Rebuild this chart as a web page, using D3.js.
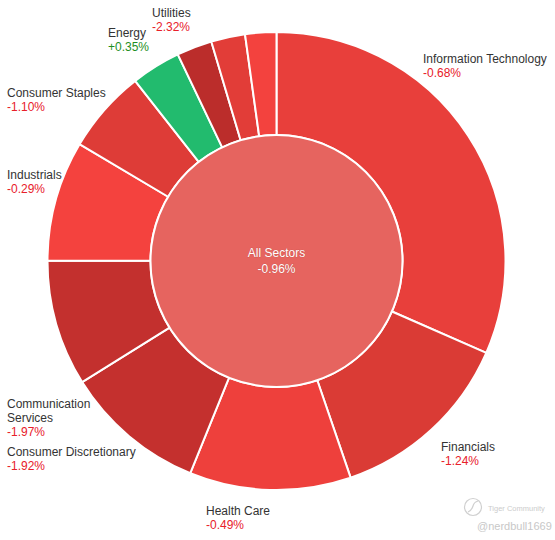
<!DOCTYPE html>
<html>
<head>
<meta charset="utf-8">
<script src="https://cdn.jsdelivr.net/npm/d3@7"></script>
<style>
  html, body { margin: 0; padding: 0; background: #fff; }
  svg { display: block; font-family: "Liberation Sans", Arial, sans-serif; }
</style>
</head>
<body>
<svg id="chart" width="555" height="540"></svg>
<script>
// ---- data ----
const sectors = ["Information Technology", "Financials", "Health Care", "Consumer Discretionary",
  "Communication Services", "Industrials", "Consumer Staples", "Energy", "Utilities", "Materials", "Real Estate"];
const weights = [31.6, 13.2, 11.4, 10.0, 8.9, 8.5, 5.9, 3.5, 2.5, 2.4, 2.2];
const changes = [-0.68, -1.24, -0.49, -1.92, -1.97, -0.29, -1.10, 0.35, -2.32, -0.92, -0.33];
const totalLabel = "All Sectors";
const totalChange = -0.96;
const labelledSectors = ["Information Technology", "Financials", "Health Care", "Consumer Discretionary",
  "Communication Services", "Industrials", "Consumer Staples", "Energy", "Utilities"];

// ---- layout (not data) ----
const cx = 276.5, cy = 261, rIn = 126, rOut = 229;
const labelLayout = {
  "Information Technology": { x: 423, y: 63, lines: ["Information Technology"] },
  "Financials": { x: 441, y: 451, lines: ["Financials"] },
  "Health Care": { x: 206, y: 515, lines: ["Health Care"] },
  "Consumer Discretionary": { x: 7, y: 456, lines: ["Consumer Discretionary"] },
  "Communication Services": { x: 7, y: 407.5, lines: ["Communication", "Services"] },
  "Industrials": { x: 7, y: 179, lines: ["Industrials"] },
  "Consumer Staples": { x: 7, y: 97, lines: ["Consumer Staples"] },
  "Energy": { x: 108, y: 37, lines: ["Energy"] },
  "Utilities": { x: 152, y: 17, lines: ["Utilities"] }
};

const color = d3.scaleLinear()
  .domain([-2.32, -1.95, -1.24, -0.68, -0.29])
  .range(["#bb2d2b", "#c3302e", "#da3b35", "#e83f3b", "#f4423e"])
  .clamp(true);
const fill = v => v > 0 ? "#22bb6e" : color(v);
const fmt = v => (v > 0 ? "+" : "") + v.toFixed(2) + "%";

const data = sectors.map((s, i) => ({ name: s, weight: weights[i], change: changes[i] }));

const svg = d3.select("#chart");
const g = svg.append("g").attr("transform", `translate(${cx},${cy})`);

const pie = d3.pie().sort(null).value(d => d.weight).startAngle(0).endAngle(2 * Math.PI);
const arc = d3.arc().innerRadius(rIn).outerRadius(rOut);

g.selectAll("path.slice")
  .data(pie(data))
  .join("path")
  .attr("class", "slice")
  .attr("d", arc)
  .attr("fill", d => fill(d.data.change))
  .attr("stroke", "#ffffff")
  .attr("stroke-width", 2)
  .attr("stroke-linejoin", "round");

g.append("circle")
  .attr("r", rIn)
  .attr("fill", "#e6645f")
  .attr("stroke", "#ffffff")
  .attr("stroke-width", 2);

const center = g.append("text")
  .attr("text-anchor", "middle")
  .attr("font-size", 12)
  .attr("fill", "#ffffff")
  .attr("stroke", "#c9504b")
  .attr("stroke-width", 0.6)
  .attr("paint-order", "stroke");
center.append("tspan").attr("x", 0).attr("y", -4).text(totalLabel);
center.append("tspan").attr("x", 0).attr("y", 11.5).text(fmt(totalChange));

// ---- outer labels ----
const lbl = svg.append("g").attr("font-size", 12);
data.filter(d => labelledSectors.includes(d.name)).forEach(d => {
  const L = labelLayout[d.name];
  const t = lbl.append("text").attr("x", L.x).attr("y", L.y);
  L.lines.forEach((line, i) => {
    t.append("tspan").attr("x", L.x).attr("dy", i === 0 ? 0 : 14.2).attr("fill", "#333333").text(line);
  });
  t.append("tspan").attr("x", L.x).attr("dy", 14)
    .attr("fill", d.change > 0 ? "#1f8f1f" : "#e8202a")
    .text(fmt(d.change));
});

// ---- watermark ----
const wm = svg.append("g").attr("fill", "#cccccc");
wm.append("circle").attr("cx", 473).attr("cy", 507).attr("r", 8.5)
  .attr("fill", "none").attr("stroke", "#d0d0d0").attr("stroke-width", 1.2);
wm.append("path").attr("d", "M468,512 q4,-2 5,-6 q1,-4 5,-5")
  .attr("fill", "none").attr("stroke", "#d0d0d0").attr("stroke-width", 1.2);
wm.append("text").attr("x", 488).attr("y", 510.5).attr("font-size", 7.5).text("Tiger Community");
wm.append("text").attr("x", 477).attr("y", 530).attr("font-size", 11).attr("fill", "#c8c8c8").text("@nerdbull1669");
</script>
</body>
</html>
